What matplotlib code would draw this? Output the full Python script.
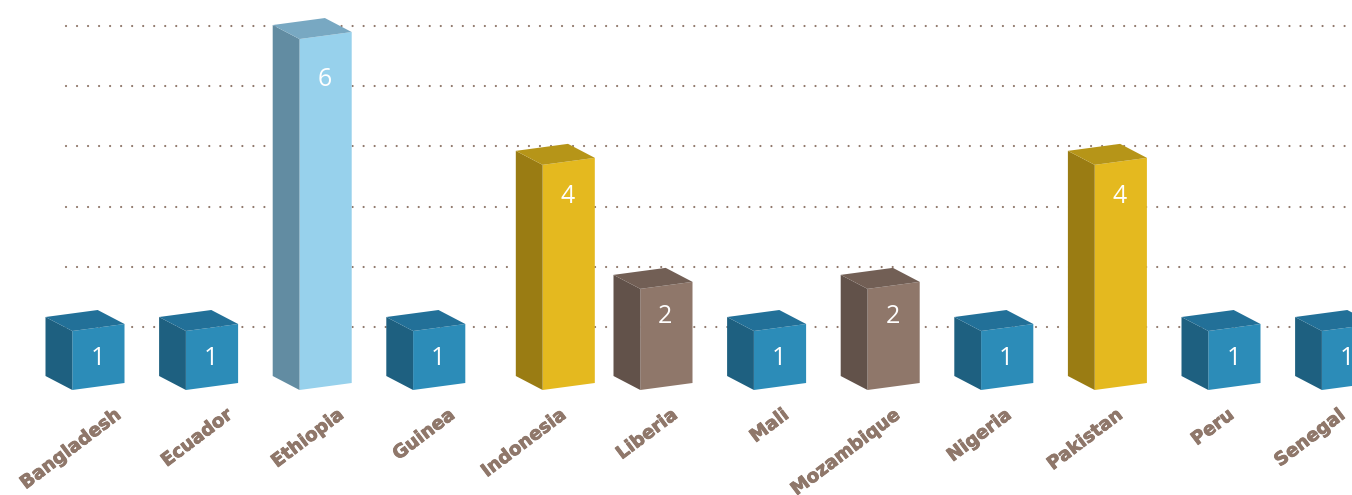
import matplotlib
matplotlib.use('Agg')
import matplotlib.pyplot as plt
import matplotlib.patheffects as pe

# chart data
countries = ['Bangladesh', 'Ecuador', 'Ethiopia', 'Guinea', 'Indonesia', 'Liberia',
             'Mali', 'Mozambique', 'Nigeria', 'Pakistan', 'Peru', 'Senegal']
counts = [1, 1, 6, 1, 4, 2, 1, 2, 1, 4, 1, 1]
# height actually drawn in the picture, in grid units (the 3d bars do not sit exactly on the grid)
bar_heights = [0.98, 0.98, 5.83, 0.98, 3.74, 1.68, 0.98, 1.68, 0.98, 3.74, 0.98, 0.98]
groups = ['blue', 'blue', 'sky', 'blue', 'gold', 'brown', 'blue', 'brown', 'blue', 'gold', 'blue', 'blue']
# Indonesia sits a bit right of its slot
slot_shift = [0, 0, 0, 0, 0.14, 0, 0, 0, 0, 0, 0, 0]
grid_levels = [1, 2, 3, 4, 5, 6]

# front, top, side
palette = {
    'blue': ('#2C8CB8', '#227098', '#1E6080'),
    'sky': ('#97D1EC', '#78A8C2', '#628CA2'),
    'gold': ('#E4B91F', '#B69518', '#9A7C13'),
    'brown': ('#8F776A', '#725F55', '#62524A'),
}
# how far the number sits below the front face top, px
label_drop = {1: 27, 2: 28, 4: 32, 6: 40}

W, H = 1352, 495
SLOT = 113.6
UNIT = 60.2
# axes scale: slot 0 starts at px 45.5, value 0 at px 387.2
X0, Y0 = 45.5, 387.2
# box shape in data units
SIDE_DX = 26.8 / SLOT
SIDE_DY = 14.0 / UNIT
FRONT_DX = 52.2 / SLOT
FRONT_DY = 7.0 / UNIT
FLOOR = -2.8 / UNIT  # front bottom-left corner
# country labels run on their own slightly tighter spacing
NAME_START = (119 - X0) / SLOT
NAME_STEP = 111.3 / SLOT
NAME_Y = (Y0 - 413) / UNIT


def draw_box(ax, x, h, colors):
    front, top, side = colors
    xf = x + SIDE_DX
    xr = xf + FRONT_DX
    xb = x + FRONT_DX
    ax.fill([xf, xr, xr, xf], [FLOOR, FLOOR + FRONT_DY, FLOOR + FRONT_DY + h, FLOOR + h],
            color=front, lw=0, zorder=3)
    ax.fill([x, xf, xf, x], [FLOOR + SIDE_DY, FLOOR, FLOOR + h, FLOOR + SIDE_DY + h],
            color=side, lw=0, zorder=3)
    ax.fill([x, xf, xr, xb], [FLOOR + SIDE_DY + h, FLOOR + h, FLOOR + FRONT_DY + h, FLOOR + SIDE_DY + FRONT_DY + h],
            color=top, lw=0, zorder=3)


fig = plt.figure(figsize=(W / 100, H / 100), dpi=100)
ax = fig.add_axes([0, 0, 1, 1])
ax.set_xlim(-X0 / SLOT, (W - X0) / SLOT)
ax.set_ylim((Y0 - H) / UNIT, Y0 / UNIT)
ax.axis('off')

# dotted grid
for lev in grid_levels:
    ax.plot([(65.7 - X0) / SLOT, (W - X0) / SLOT], [lev, lev], color='#8F776A', lw=1.6,
            dashes=(0.01, 4.95), dash_capstyle='round', zorder=1)

for i, name in enumerate(countries):
    x = i + slot_shift[i]
    draw_box(ax, x, bar_heights[i], palette[groups[i]])
    xc = x + SIDE_DX + FRONT_DX / 2 - 1 / SLOT
    # value label near the top of the front face
    ax.text(xc, FLOOR + bar_heights[i] - label_drop[counts[i]] / UNIT, str(counts[i]), color='white',
            fontsize=18, family='Open Sans', ha='center', va='center', zorder=4, clip_on=True)
    # country label, right end under the box
    ax.text(NAME_START + i * NAME_STEP, NAME_Y, name, color='#8F776A', fontsize=13.2,
            family='DejaVu Sans', fontweight='bold', rotation=37, rotation_mode='anchor',
            ha='right', va='center', zorder=4,
            path_effects=[pe.withStroke(linewidth=0.6, foreground='#8F776A')])

fig.savefig('out.png', dpi=100)
